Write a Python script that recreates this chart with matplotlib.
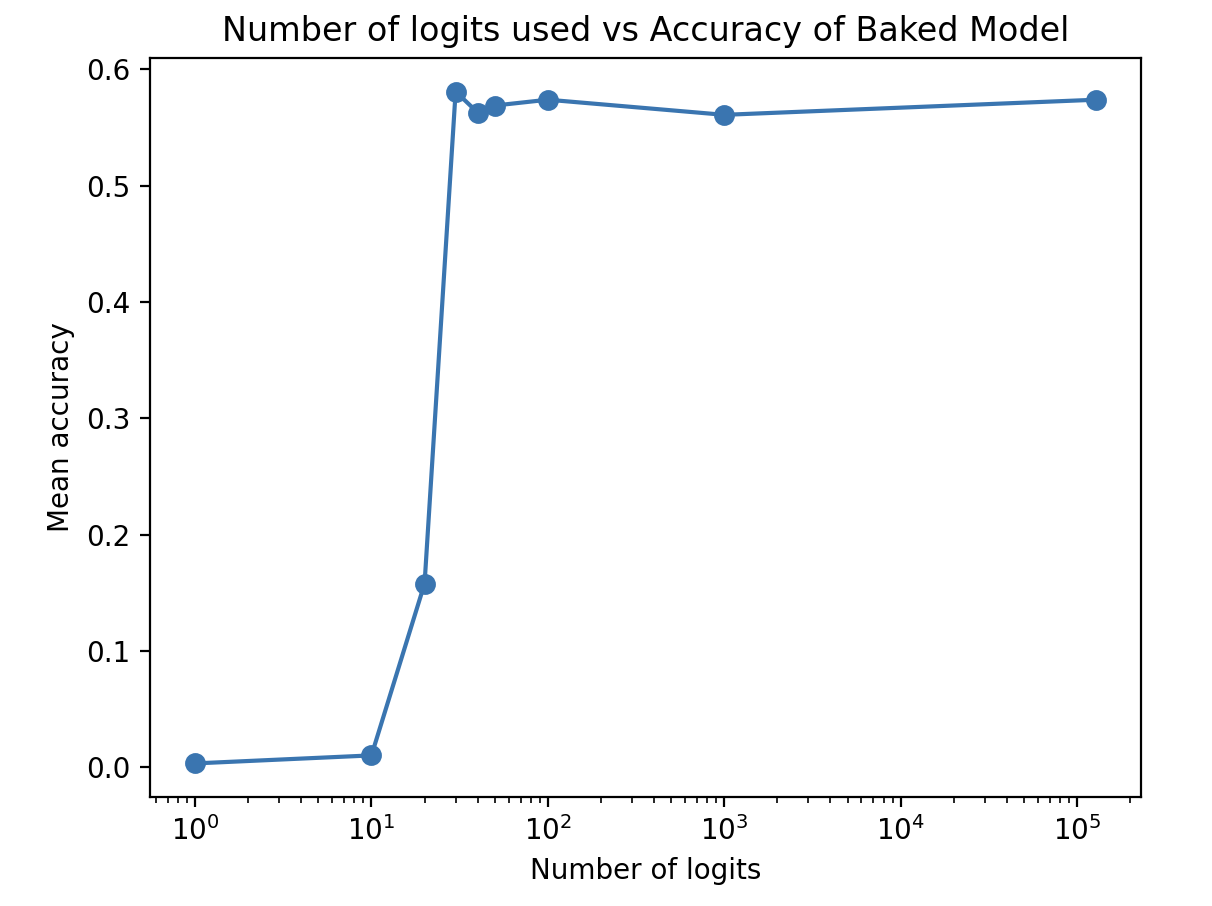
import matplotlib
matplotlib.use("Agg")
import matplotlib.pyplot as plt

num_logits = [1, 10, 20, 30, 40, 50, 100, 1000, 128256]
mean_acc = [0.0034, 0.0103, 0.158, 0.581, 0.563, 0.569, 0.574, 0.561, 0.574]

fig = plt.figure(figsize=(6.06, 4.53), dpi=200)
ax = fig.add_axes([0.1238, 0.1203, 0.8177, 0.8157])
ax.plot(num_logits, mean_acc, marker="o", color="#3a75b0", markersize=6.5, linewidth=1.5)
ax.set_xscale("log")
ax.set_xlabel("Number of logits")
ax.set_ylabel("Mean accuracy")
ax.set_title("Number of logits used vs Accuracy of Baked Model")
fig.savefig("out.png", dpi=200)
